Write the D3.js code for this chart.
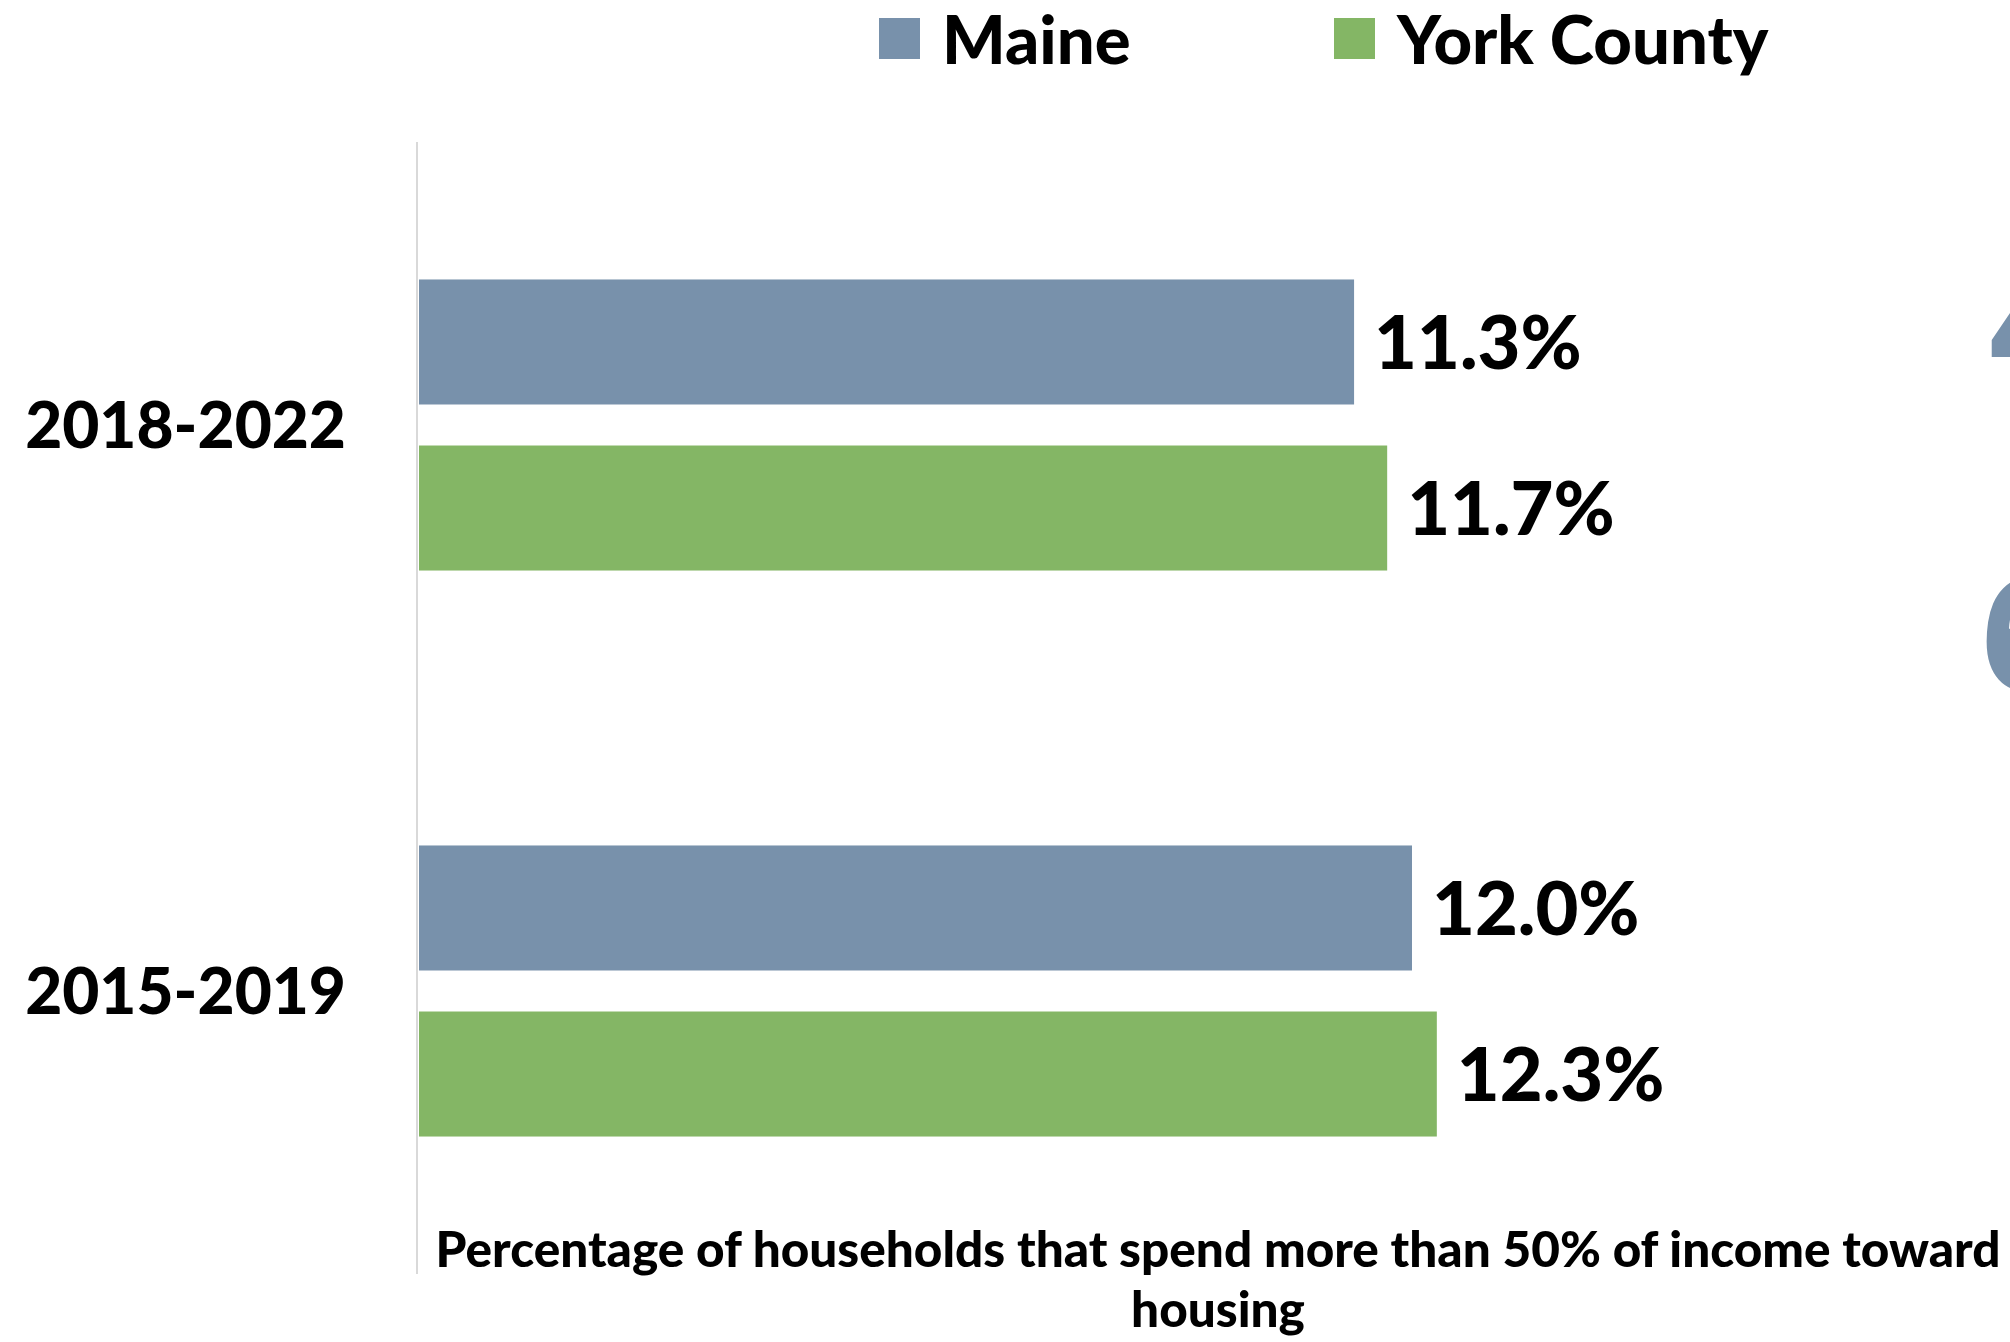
<!DOCTYPE html>
<html>
<head>
<meta charset="utf-8">
<script src="https://cdn.jsdelivr.net/npm/d3@7"></script>
<style>
  body { margin: 0; background: #fff; overflow: hidden; }
  text { font-family: Lato, "Open Sans", sans-serif; font-weight: 900; fill: #000; }
</style>
</head>
<body>
<div id="wrapper"></div>
<script>
// data
const periods = ["2018-2022", "2015-2019"];
const seriesNames = ["Maine", "York County"];
const maineValues = [11.3, 12.0];
const yorkValues = [11.7, 12.3];
const axisTitleLines = [
  "Percentage of households that spend more than 50% of income toward",
  "housing",
];
// partly visible numbers on the right edge (cut off in the original)
const edgeDigits = ["4", "6"];

const colors = ["#7891ab", "#84b665"];

const width = 2010;
const height = 1342;
const margin = { top: 142, bottom: 68, left: 419 };

const svg = d3
  .select("#wrapper")
  .append("svg")
  .attr("width", width)
  .attr("height", height);

const rows = periods.map((p, i) => ({
  period: p,
  values: [
    { name: seriesNames[0], value: maineValues[i] },
    { name: seriesNames[1], value: yorkValues[i] },
  ],
}));

// scales
const xScale = d3.scaleLinear().domain([0, 20]).range([margin.left, margin.left + 20 * 82.75]);

const yScale = d3
  .scaleBand()
  .domain(periods)
  .range([margin.top, height - margin.bottom]);

const innerScale = d3
  .scaleBand()
  .domain(seriesNames)
  .range([0, yScale.bandwidth()])
  .paddingInner(0.247)
  .paddingOuter(0.828);

const colorScale = d3.scaleOrdinal().domain(seriesNames).range(colors);

// axis line
svg
  .append("line")
  .attr("x1", margin.left - 2)
  .attr("x2", margin.left - 2)
  .attr("y1", margin.top)
  .attr("y2", height - margin.bottom)
  .attr("stroke", "#d9d9d9")
  .attr("stroke-width", 2);

// category labels
svg
  .selectAll(".cat-label")
  .data(periods)
  .join("text")
  .attr("class", "cat-label")
  .attr("x", margin.left - 73)
  .attr("y", (d) => yScale(d) + yScale.bandwidth() / 2)
  .attr("dy", "0.36em")
  .attr("text-anchor", "end")
  .style("font-size", "64px")
  .text((d) => d);

// bars
const groups = svg
  .selectAll(".group")
  .data(rows)
  .join("g")
  .attr("class", "group")
  .attr("transform", (d) => `translate(0,${yScale(d.period)})`);

groups
  .selectAll("rect")
  .data((d) => d.values)
  .join("rect")
  .attr("x", xScale(0))
  .attr("y", (d) => innerScale(d.name))
  .attr("width", (d) => xScale(d.value) - xScale(0))
  .attr("height", innerScale.bandwidth())
  .attr("fill", (d) => colorScale(d.name));

groups
  .selectAll(".value-label")
  .data((d) => d.values)
  .join("text")
  .attr("class", "value-label")
  .attr("x", (d) => xScale(d.value) + 20)
  .attr("y", (d) => innerScale(d.name) + innerScale.bandwidth() / 2)
  .attr("dy", "0.36em")
  .style("font-size", "74px")
  .text((d) => d3.format(".1f")(d.value) + "%");

// axis title
svg
  .append("text")
  .attr("x", 1218)
  .attr("y", 1267)
  .attr("text-anchor", "middle")
  .style("font-size", "49.5px")
  .selectAll("tspan")
  .data(axisTitleLines)
  .join("tspan")
  .attr("x", 1218)
  .attr("dy", (d, i) => (i === 0 ? 0 : 60))
  .text((d) => d);

// legend
const legendX = [879, 1334];
const legend = svg
  .selectAll(".legend")
  .data(seriesNames)
  .join("g")
  .attr("class", "legend")
  .attr("transform", (d, i) => `translate(${legendX[i]},18)`);

legend
  .append("rect")
  .attr("width", 41)
  .attr("height", 41)
  .attr("fill", (d) => colorScale(d));

legend
  .append("text")
  .attr("x", 63)
  .attr("y", 46)
  .style("font-size", "67px")
  .text((d) => d);

// cut-off digits at the right edge
const edgeX = [1989, 1981];
svg
  .selectAll(".edge-digit")
  .data(edgeDigits)
  .join("text")
  .attr("class", "edge-digit")
  .attr("x", (d, i) => edgeX[i])
  .attr("y", (d, i) => 381 + i * 309)
  .style("font-family", "'Open Sans', sans-serif")
  .style("font-weight", 700)
  .style("font-size", "161px")
  .style("fill", colors[0])
  .text((d) => d);
</script>
</body>
</html>
